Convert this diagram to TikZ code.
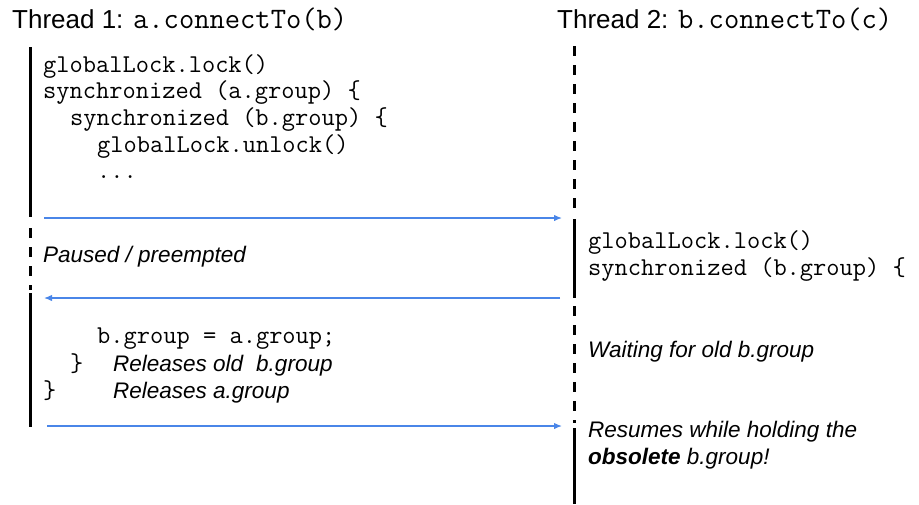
\documentclass[tikz,border=0pt]{standalone}
\usepackage{fontspec}
\setmainfont{Liberation Sans}
\usetikzlibrary{arrows.meta}
\definecolor{msgblue}{HTML}{4A86E8}
\newcommand{\hdmono}[1]{{\fontsize{29.7}{32}\selectfont\ttfamily #1}}

\begin{document}
\begin{tikzpicture}[x=1pt,y=-1pt,
    head/.style={anchor=base west,inner sep=0pt,font=\fontsize{26}{30}\selectfont},
    code/.style={anchor=base west,inner sep=0pt,font=\fontsize{25.7}{27}\selectfont\ttfamily},
    note/.style={anchor=base west,inner sep=0pt,font=\fontsize{22.5}{27}\selectfont\itshape},
    busy/.style={line width=3pt},
    idle/.style={line width=3pt,dash pattern=on 10pt off 9pt},
    msg/.style={-{Latex[length=8pt,width=6.5pt]},msgblue,line width=1.3pt}]
    \useasboundingbox (0,0) rectangle (919,504);

    % thread headers
    \node[head] (t1) at (12,28) {Thread 1: \hdmono{a.connectTo(b)}};
    \node[head] (t2) at (557,28) {Thread 2: \hdmono{b.connectTo(c)}};

    % life lines
    \coordinate (l1a) at (30,47);  \coordinate (l1b) at (30,217);
    \coordinate (l1c) at (30,228); \coordinate (l1d) at (30,290);
    \coordinate (l1e) at (30,293); \coordinate (l1f) at (30,427);
    \coordinate (l2a) at (574,46);  \coordinate (l2b) at (574,214);
    \coordinate (l2c) at (574,219); \coordinate (l2d) at (574,298);
    \coordinate (l2e) at (574,306); \coordinate (l2f) at (574,423);
    \coordinate (l2g) at (574,428); \coordinate (l2h) at (574,504);
    \draw[busy] (l1a) -- (l1b);
    \draw[idle] (l1c) -- (l1d);
    \draw[busy] (l1e) -- (l1f);
    \draw[idle] (l2a) -- (l2b);
    \draw[busy] (l2c) -- (l2d);
    \draw[idle] (l2e) -- (l2f);
    \draw[busy] (l2g) -- (l2h);

    % thread 1, first run
    \node[code] (c1) at (43,72) {globalLock.lock()};
    \node[code] (c2) at (43,98.7) {synchronized (a.group) \{};
    \node[code] (c3) at (70,125.4) {synchronized (b.group) \{};
    \node[code] (c4) at (97,152.1) {globalLock.unlock()};
    \node[code] (c5) at (97,178.8) {...};
    \node[note] (n1) at (43,262) {Paused / preempted};

    % thread 2
    \node[code] (d1) at (588,248) {globalLock.lock()};
    \node[code] (d2) at (588,275) {synchronized (b.group) \{};
    \node[note] (n2) at (588,357) {Waiting for old b.group};

    % thread 1, second run
    \node[code] (c6) at (97,343) {b.group = a.group;};
    \node[code] (c7) at (70,371) {\}};
    \node[code] (c8) at (43,398) {\}};
    \node[note] (n3) at (113,371) {Releases old\hspace{13pt}b.group};
    \node[note] (n4) at (113,398) {Releases a.group};

    \node[note] (n5) at (588,437) {Resumes while holding the};
    \node[note] (n6) at (588,464) {\textbf{obsolete} b.group!};

    % switches
    \coordinate (s1) at (44,218);  \coordinate (e1) at (562,218);
    \coordinate (s2) at (560,298); \coordinate (e2) at (44,298);
    \coordinate (s3) at (47,426);  \coordinate (e3) at (562,426);
    \draw[msg] (s1) -- (e1);
    \draw[msg] (s2) -- (e2);
    \draw[msg] (s3) -- (e3);
\end{tikzpicture}
\end{document}
